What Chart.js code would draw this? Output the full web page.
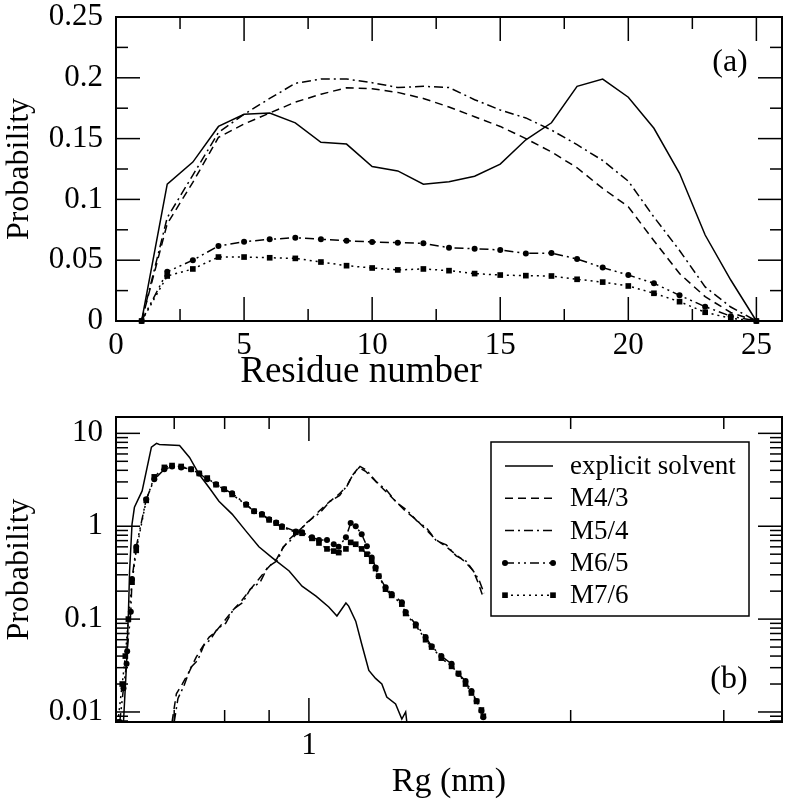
<!DOCTYPE html>
<html><head><meta charset="utf-8">
<script src="https://cdn.jsdelivr.net/npm/chart.js@4.4.0/dist/chart.umd.min.js"></script>
<style>
html,body{margin:0;padding:0;background:#fff;width:786px;height:799px;overflow:hidden;}
#w1{position:absolute;left:0;top:0;width:786px;height:395px;}
#w2{position:absolute;left:0;top:395px;width:786px;height:404px;}
</style></head><body>
<div id="w1"><canvas id="c1"></canvas></div>
<div id="w2"><canvas id="c2"></canvas></div>
<script>
const FONT = "'Liberation Serif','Times New Roman',Times,serif";

// ---------- Panel (a): probability vs residue number ----------
const residues = [1,2,3,4,5,6,7,8,9,10,11,12,13,14,15,16,17,18,19,20,21,22,23,24,25];
const probSolventA = [0,0.1125,0.1307,0.160,0.170,0.171,0.163,0.147,0.1455,0.127,0.1234,0.1125,0.1145,0.119,0.129,0.149,0.163,0.193,0.199,0.184,0.1585,0.1215,0.0707,0.0337,0];
const probM43A = [0,0.080,0.114,0.151,0.162,0.171,0.180,0.1865,0.1918,0.191,0.188,0.183,0.176,0.168,0.160,0.150,0.139,0.126,0.109,0.094,0.066,0.039,0.020,0.007,0];
const probM54A = [0,0.085,0.120,0.155,0.170,0.183,0.1955,0.199,0.199,0.196,0.192,0.193,0.192,0.182,0.1735,0.167,0.157,0.145,0.132,0.115,0.0855,0.058,0.028,0.0115,0];
const probM65A = [0,0.0405,0.050,0.0617,0.0652,0.0672,0.0685,0.0672,0.066,0.065,0.0644,0.0639,0.0603,0.0595,0.0584,0.0556,0.0559,0.051,0.0439,0.0378,0.031,0.0211,0.0118,0.004,0];
const probM76A = [0,0.037,0.0428,0.0526,0.0526,0.052,0.0515,0.0485,0.0455,0.0436,0.042,0.0428,0.0414,0.039,0.0378,0.0373,0.037,0.0343,0.032,0.0288,0.0228,0.0159,0.0072,0.0022,0];

const aXTicks = [0,5,10,15,20,25];
const aXLabels = ['0','5','10','15','20','25'];
const aXMinor = [2.5,7.5,12.5,17.5,22.5];
const aYTicks = [0,0.05,0.1,0.15,0.2,0.25];
const aYLabels = ['0','0.05','0.1','0.15','0.2','0.25'];
const aYMinor = [0.025,0.075,0.125,0.175,0.225];

// ---------- Panel (b): probability vs Rg ----------
const rgSolvent = [0.612,0.617,0.620,0.622,0.626,0.630,0.643,0.659,0.668,0.673,0.710,0.729,0.748,0.768,0.788,0.816,0.847,0.876,0.907,0.949,0.982,1.019,1.054,1.077,1.103,1.111,1.132,1.150,1.172,1.193,1.213,1.229,1.258,1.279,1.292,1.296];
const pSolvent  = [0.0078,0.033,0.113,0.33,1.05,1.6,2.4,7.1,7.8,7.6,7.4,5.5,3.6,2.6,1.86,1.35,0.88,0.6,0.46,0.33,0.226,0.177,0.135,0.108,0.149,0.138,0.095,0.054,0.028,0.023,0.020,0.0145,0.0122,0.0084,0.010,0.0078];

const rgM43 = [0.696,0.704,0.715,0.729,0.742,0.754,0.768,0.782,0.799,0.816,0.836,0.853,0.876,0.893,0.919,0.931,0.949,0.992,1.027,1.054,1.082,1.106,1.120,1.141,1.162,1.193,1.225,1.258,1.292,1.327,1.362,1.398,1.436,1.474,1.514,1.546,1.567,1.587];
const pM43  = [0.0078,0.0157,0.020,0.0276,0.039,0.05,0.064,0.074,0.095,0.122,0.156,0.2,0.27,0.34,0.45,0.56,0.72,1.05,1.45,1.81,2.2,2.7,3.45,4.3,3.9,3.05,2.38,1.86,1.45,1.19,0.93,0.725,0.61,0.5,0.41,0.33,0.24,0.17];

const rgM54 = [0.700,0.707,0.718,0.731,0.745,0.757,0.770,0.785,0.802,0.819,0.839,0.856,0.879,0.896,0.921,0.934,0.952,0.995,1.030,1.057,1.085,1.108,1.122,1.145,1.165,1.196,1.228,1.261,1.295,1.330,1.365,1.401,1.439,1.477,1.517,1.549,1.570,1.590];
const pM54  = [0.0078,0.014,0.019,0.030,0.036,0.052,0.060,0.079,0.090,0.128,0.150,0.21,0.25,0.36,0.43,0.60,0.70,1.1,1.4,1.85,2.15,2.8,3.5,4.4,4.0,3.0,2.45,1.8,1.5,1.15,0.96,0.70,0.63,0.48,0.42,0.32,0.26,0.19];

const rgM65 = [0.606,0.612,0.617,0.618,0.624,0.626,0.633,0.650,0.664,0.682,0.696,0.713,0.732,0.748,0.764,0.782,0.799,0.816,0.847,0.865,0.883,0.900,0.917,0.931,0.966,0.982,1.008,1.027,1.049,1.068,1.082,1.103,1.117,1.132,1.150,1.166,1.181,1.193,1.203,1.225,1.245,1.279,1.292,1.327,1.362,1.384,1.420,1.459,1.486,1.514,1.538,1.559,1.579,1.587];
const pM65  = [0.0078,0.018,0.033,0.045,0.12,0.27,0.6,1.95,3.2,4.1,4.4,4.3,4.1,3.7,3.2,2.83,2.5,2.26,1.72,1.45,1.35,1.19,1.1,1.0,0.88,0.86,0.76,0.71,0.71,0.64,0.60,0.76,1.08,1.0,0.82,0.61,0.46,0.36,0.29,0.22,0.186,0.152,0.119,0.088,0.064,0.051,0.040,0.033,0.0256,0.0216,0.0168,0.0131,0.0103,0.0088];

const rgM76 = [0.603,0.610,0.615,0.620,0.626,0.633,0.650,0.664,0.682,0.696,0.713,0.732,0.748,0.764,0.782,0.799,0.816,0.847,0.865,0.883,0.900,0.917,0.931,0.966,0.982,1.008,1.027,1.049,1.068,1.082,1.103,1.117,1.132,1.150,1.166,1.181,1.193,1.203,1.225,1.245,1.279,1.292,1.327,1.362,1.384,1.420,1.459,1.486,1.514,1.538,1.559,1.579,1.587];
const pM76  = [0.0078,0.02,0.04,0.1,0.25,0.55,1.9,3.4,4.3,4.5,4.4,4.1,3.7,3.3,2.8,2.5,2.2,1.7,1.45,1.33,1.17,1.08,0.98,0.86,0.84,0.74,0.66,0.57,0.54,0.52,0.57,0.67,0.64,0.57,0.50,0.42,0.35,0.29,0.21,0.18,0.145,0.115,0.085,0.06,0.05,0.038,0.031,0.026,0.020,0.016,0.013,0.0105,0.009];

const bXTicks = [1];
const bXLabels = ['1'];
const bXMinor = [0.7,0.8,0.9,2,3];
const bYTicks = [0.01,0.1,1,10];
const bYLabels = ['0.01','0.1','1','10'];
const bYMinor = [0.008,0.009,0.02,0.03,0.04,0.05,0.06,0.07,0.08,0.09,0.2,0.3,0.4,0.5,0.6,0.7,0.8,0.9,2,3,4,5,6,7,8,9];

const seriesNames = ['explicit solvent','M4/3','M5/4','M6/5','M7/6'];
const seriesStyle = [
  {dash:[], pt:false},
  {dash:[8,5], pt:false},
  {dash:[9,4,2,4], pt:false},
  {dash:[9,4,2,4,2,4], pt:'circle', r:3},
  {dash:[2,4], pt:'rect', r:4}
];

function makeDs(i, xs, ys, clip){
  const s = seriesStyle[i];
  return {
    label: seriesNames[i],
    data: xs.map((x,k)=>({x:x, y:ys[k]})),
    borderColor:'#000', backgroundColor:'#000', borderWidth:1.5,
    borderDash:s.dash, pointStyle:s.pt||'circle', pointRadius:s.pt?s.r:0,
    pointBorderWidth:0, pointHoverRadius:0, tension:0, fill:false, clip:clip
  };
}

function drawMarker(ctx, style, x, y, r){
  ctx.beginPath();
  if(style==='rect'){ const h=r*Math.SQRT1_2; ctx.rect(x-h,y-h,2*h,2*h); }
  else { ctx.arc(x,y,r,0,Math.PI*2); }
  ctx.fill();
}

const frameTicks = {
  id:'frameTicks',
  afterDraw(chart, args, o){
    const {ctx, chartArea:a, scales:{x, y}} = chart;
    ctx.save();
    ctx.strokeStyle='#000'; ctx.setLineDash([]);
    ctx.lineWidth = 1.5;
    const seg=(x1,y1,x2,y2)=>{ctx.beginPath();ctx.moveTo(x1,y1);ctx.lineTo(x2,y2);ctx.stroke();};
    const xt=(vals,len)=>vals.forEach(v=>{const p=x.getPixelForValue(v); if(p<=a.left+1||p>=a.right-1) return; seg(p,a.bottom,p,a.bottom-len); seg(p,a.top,p,a.top+len);});
    const yt=(vals,len)=>vals.forEach(v=>{const p=y.getPixelForValue(v); if(p<=a.top+1||p>=a.bottom-1) return; seg(a.left,p,a.left+len,p); seg(a.right,p,a.right-len,p);});
    xt(o.xMajor,o.majorLen); xt(o.xMinor,o.minorLen);
    yt(o.yMajor,o.majorLen); yt(o.yMinor,o.minorLen);
    ctx.lineWidth = 2;
    ctx.strokeRect(a.left,a.top,a.right-a.left,a.bottom-a.top);
    ctx.fillStyle='#000'; ctx.textAlign='center'; ctx.textBaseline='middle';
    if(o.tag){
      ctx.font = o.tagSize+'px '+FONT;
      const ty = o.tagFromTop!==undefined ? a.top+o.tagFromTop : a.bottom-o.tagFromBottom;
      ctx.fillText(o.tag, a.right-o.tagFromRight, ty);
    }
    if(o.xTitle){
      ctx.font = o.xTitle.size+'px '+FONT;
      ctx.fillText(o.xTitle.text, a.left+o.xTitle.dx, a.bottom+o.xTitle.dy);
    }
    ctx.restore();
  }
};

const legendBox = {
  id:'legendBox',
  afterDraw(chart, args, o){
    if(!o || !o.show) return;
    const {ctx, chartArea:a} = chart;
    const left = a.right - o.right - o.width, top = a.top + o.top;
    ctx.save();
    ctx.fillStyle='#fff'; ctx.fillRect(left,top,o.width,o.height);
    ctx.lineWidth=1.5; ctx.strokeStyle='#000'; ctx.setLineDash([]);
    ctx.strokeRect(left, top, o.width, o.height);
    ctx.font = o.fontSize+'px '+FONT; ctx.textBaseline='middle'; ctx.textAlign='left';
    chart.data.datasets.forEach((d,i)=>{
      const y = top + o.firstRow + i*o.rowGap;
      const x1 = left + o.sampleStart, x2 = left + o.sampleEnd;
      ctx.strokeStyle='#000'; ctx.fillStyle='#000';
      ctx.setLineDash(d.borderDash||[]); ctx.lineWidth = d.borderWidth;
      ctx.beginPath(); ctx.moveTo(x1,y); ctx.lineTo(x2,y); ctx.stroke();
      ctx.setLineDash([]);
      if(d.pointRadius>0){ drawMarker(ctx,d.pointStyle,x1,y,d.pointRadius); drawMarker(ctx,d.pointStyle,x2,y,d.pointRadius); }
      ctx.fillText(d.label, left + o.textStart, y+1);
    });
    ctx.restore();
  }
};

function setTicks(vals){ return function(s){ s.ticks = vals.map(v=>({value:v})); }; }
function fixSize(prop, val){ return function(s){ s[prop]=val; s.paddingTop=0; s.paddingBottom=0; s.paddingLeft=0; s.paddingRight=0; }; }
const tickFont = {family:FONT, size:31, lineHeight:1};

new Chart(document.getElementById('c1'), {
  type:'line',
  data:{datasets:[
    makeDs(0, residues, probSolventA, 6),
    makeDs(1, residues, probM43A, 6),
    makeDs(2, residues, probM54A, 6),
    makeDs(3, residues, probM65A, 6),
    makeDs(4, residues, probM76A, 6)
  ]},
  options:{
    responsive:true, maintainAspectRatio:false, animation:false,
    layout:{padding:{left:0,right:3,top:17,bottom:0}},
    plugins:{legend:{display:false}, tooltip:{enabled:false},
      frameTicks:{xMajor:aXTicks,xMinor:aXMinor,yMajor:aYTicks,yMinor:aYMinor,majorLen:24,minorLen:12,tag:'(a)',tagSize:32,tagFromRight:52,tagFromTop:46,
        xTitle:{text:'Residue number', size:37, dx:245, dy:51}}},
    scales:{
      x:{type:'linear', min:0, max:26, afterFit:fixSize('height',74), afterBuildTicks:setTicks(aXTicks),
        ticks:{font:tickFont, color:'#000', padding:9, maxRotation:0, autoSkip:false, callback:(v,i)=>aXLabels[i]},
        grid:{display:false, drawTicks:false}, border:{display:false},
        title:{display:false}},
      y:{type:'linear', min:0, max:0.25, afterFit:fixSize('width',116), afterBuildTicks:setTicks(aYTicks),
        ticks:{font:tickFont, color:'#000', padding:13, autoSkip:false, callback:(v,i)=>aYLabels[i]},
        grid:{display:false, drawTicks:false}, border:{display:false},
        title:{display:true, text:'Probability', font:{family:FONT,size:32,lineHeight:1}, color:'#000', padding:{top:4,bottom:0}}}
    }
  },
  plugins:[frameTicks]
});

new Chart(document.getElementById('c2'), {
  type:'line',
  data:{datasets:[
    makeDs(0, rgSolvent, pSolvent, 0),
    makeDs(1, rgM43, pM43, 0),
    makeDs(2, rgM54, pM54, 0),
    makeDs(3, rgM65, pM65, 0),
    makeDs(4, rgM76, pM76, 0)
  ]},
  options:{
    responsive:true, maintainAspectRatio:false, animation:false,
    layout:{padding:{left:0,right:2,top:22,bottom:0}},
    plugins:{legend:{display:false}, tooltip:{enabled:false},
      frameTicks:{xMajor:bXTicks,xMinor:bXMinor,yMajor:bYTicks,yMinor:bYMinor,majorLen:24,minorLen:12,tag:'(b)',tagSize:32,tagFromRight:53,tagFromBottom:42},
      legendBox:{show:true, right:33, top:25, width:258, height:174, firstRow:24, rowGap:32.3, sampleStart:14, sampleEnd:62, textStart:79, fontSize:27}},
    scales:{
      x:{type:'logarithmic', min:0.6, max:3.5, afterFit:fixSize('height',77), afterBuildTicks:setTicks(bXTicks),
        ticks:{font:tickFont, color:'#000', padding:8, maxRotation:0, autoSkip:false, callback:(v,i)=>bXLabels[i]},
        grid:{display:false, drawTicks:false}, border:{display:false},
        title:{display:true, text:'Rg (nm)', font:{family:FONT,size:34,lineHeight:1}, color:'#000', padding:{top:0,bottom:0}}},
      y:{type:'logarithmic', min:0.0078, max:15, afterFit:fixSize('width',116), afterBuildTicks:setTicks(bYTicks),
        ticks:{font:tickFont, color:'#000', padding:13, autoSkip:false, callback:(v,i)=>bYLabels[i]},
        grid:{display:false, drawTicks:false}, border:{display:false},
        title:{display:true, text:'Probability', font:{family:FONT,size:32,lineHeight:1}, color:'#000', padding:{top:4,bottom:0}}}
    }
  },
  plugins:[frameTicks, legendBox]
});
</script>
</body></html>
